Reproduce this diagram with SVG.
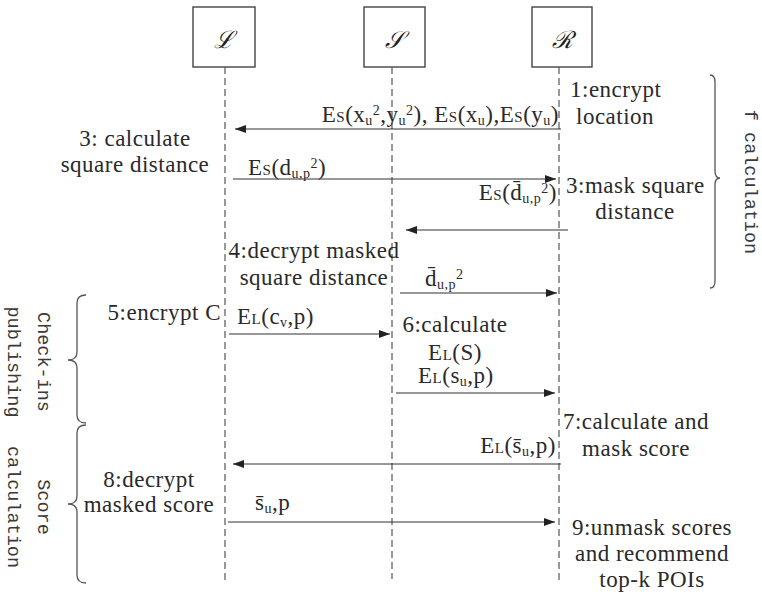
<svg xmlns="http://www.w3.org/2000/svg" width="762" height="595" viewBox="0 0 762 595">
<defs>
<style>
.box{fill:#fff;stroke:#444;stroke-width:1.4}
.life{stroke:#555;stroke-width:1.2;stroke-dasharray:7,4;fill:none}
.msg{stroke:#333;stroke-width:1.2;fill:none;marker-end:url(#ah)}
.brace{stroke:#555;stroke-width:1.3;fill:none}
.t{font-family:"Liberation Serif","DejaVu Serif",serif;font-size:23px;letter-spacing:0.5px;fill:#2a2a2a}
.sym{font-family:"DejaVu Serif","Liberation Serif",serif;font-size:24px;font-style:italic;fill:#222}
.mono{font-family:"Liberation Mono","DejaVu Sans Mono",monospace;font-size:18.5px;fill:#3a3a3a}
.sm{font-size:15px}
.sb{font-size:14px}
.sp{font-size:14px}
.c{text-anchor:middle}
.e{text-anchor:end}
</style>
<marker id="ah" markerUnits="userSpaceOnUse" markerWidth="11" markerHeight="8" refX="11" refY="4" orient="auto">
<path d="M0,0 L11,4 L0,8 z" fill="#222"/>
</marker>
</defs>

<g id="node-L">
<rect class="box" x="193" y="7" width="62" height="60"/>
<text class="sym c" x="224" y="48">ℒ</text>
</g>
<g id="node-S">
<rect class="box" x="364" y="7" width="61" height="60"/>
<text class="sym c" x="394.5" y="48">𝒮</text>
</g>
<g id="node-R">
<rect class="box" x="532" y="7" width="60" height="60"/>
<text class="sym c" x="562" y="48">ℛ</text>
</g>

<g id="lifelines">
<line class="life" x1="225" y1="67" x2="225" y2="583"/>
<line class="life" x1="392" y1="67" x2="392" y2="579"/>
<line class="life" x1="559" y1="67" x2="559" y2="583"/>
</g>

<g id="connectors">
<line class="msg" x1="561" y1="129" x2="235" y2="129"/>
<line class="msg" x1="233" y1="179" x2="556" y2="179"/>
<line class="msg" x1="568" y1="230" x2="406" y2="230"/>
<line class="msg" x1="400" y1="293" x2="557" y2="293"/>
<line class="msg" x1="229" y1="334" x2="390" y2="334"/>
<line class="msg" x1="396" y1="393" x2="555" y2="393"/>
<line class="msg" x1="561" y1="464" x2="233" y2="464"/>
<line class="msg" x1="228" y1="522" x2="555" y2="522"/>
</g>

<g id="message-labels">
<text class="t e" x="559" y="122">E<tspan class="sm">S</tspan>(x<tspan class="sb" dy="3">u</tspan><tspan class="sp" dy="-10">2</tspan><tspan dy="7">,y</tspan><tspan class="sb" dy="3">u</tspan><tspan class="sp" dy="-10">2</tspan><tspan dy="7">), E</tspan><tspan class="sm">S</tspan>(x<tspan class="sb" dy="3">u</tspan><tspan dy="-3">),E</tspan><tspan class="sm">S</tspan>(y<tspan class="sb" dy="3">u</tspan><tspan dy="-3">)</tspan></text>
<text class="t" x="248" y="175">E<tspan class="sm">S</tspan>(d<tspan class="sb" dy="3">u,p</tspan><tspan class="sp" dy="-10">2</tspan><tspan dy="7">)</tspan></text>
<text class="t e" x="557" y="200">E<tspan class="sm">S</tspan>(d̄<tspan class="sb" dy="3">u,p</tspan><tspan class="sp" dy="-10">2</tspan><tspan dy="7">)</tspan></text>
<text class="t" x="425" y="286">d̄<tspan class="sb" dy="3">u,p</tspan><tspan class="sp" dy="-10">2</tspan></text>
<text class="t" x="237" y="324">E<tspan class="sm">L</tspan>(c<tspan class="sb" dy="3">v</tspan><tspan dy="-3">,p)</tspan></text>
<text class="t" x="418" y="383">E<tspan class="sm">L</tspan>(s<tspan class="sb" dy="3">u</tspan><tspan dy="-3">,p)</tspan></text>
<text class="t e" x="556" y="453">E<tspan class="sm">L</tspan>(s̄<tspan class="sb" dy="3">u</tspan><tspan dy="-3">,p)</tspan></text>
<text class="t" x="255" y="510">s̄<tspan class="sb" dy="3">u</tspan><tspan dy="-3">,p</tspan></text>
</g>

<g id="step-notes">
<text class="t" x="570" y="97">1:encrypt</text>
<text class="t" x="576" y="124">location</text>
<text class="t c" x="135" y="146">3: calculate</text>
<text class="t c" x="135" y="172">square distance</text>
<text class="t" x="566" y="193">3:mask square</text>
<text class="t c" x="635" y="219">distance</text>
<text class="t c" x="314" y="258">4:decrypt masked</text>
<text class="t c" x="314" y="285">square distance</text>
<text class="t e" x="221" y="320">5:encrypt C</text>
<text class="t c" x="455" y="332">6:calculate</text>
<text class="t c" x="455" y="360">E<tspan class="sm">L</tspan>(S)</text>
<text class="t c" x="636" y="429">7:calculate and</text>
<text class="t c" x="636" y="456">mask score</text>
<text class="t c" x="149" y="487">8:decrypt</text>
<text class="t c" x="149" y="512">masked score</text>
<text class="t c" x="652" y="535">9:unmask scores</text>
<text class="t c" x="652" y="561">and recommend</text>
<text class="t c" x="652" y="587">top-k POIs</text>
</g>

<g id="phase-braces">
<path class="brace" d="M710,75 Q715,75 715,82 L715,171 Q715,178 720,178 Q715,178 715,185 L715,281 Q715,288 710,288"/>
<path class="brace" d="M86,295 Q77,295 77,303 L77,352 Q77,360 68,360 Q77,360 77,368 L77,415 Q77,423 86,423"/>
<path class="brace" d="M86,425 Q77,425 77,433 L77,496 Q77,504 68,504 Q77,504 77,512 L77,575 Q77,583 86,583"/>
<text class="mono c" transform="translate(745,182) rotate(90)">f calculation</text>
<text class="mono c" transform="translate(38,362) rotate(90)">Check-ins</text>
<text class="mono c" transform="translate(8,362) rotate(90)">publishing</text>
<text class="mono c" transform="translate(38,507) rotate(90)">Score</text>
<text class="mono c" transform="translate(8,507) rotate(90)">calculation</text>
</g>
</svg>
